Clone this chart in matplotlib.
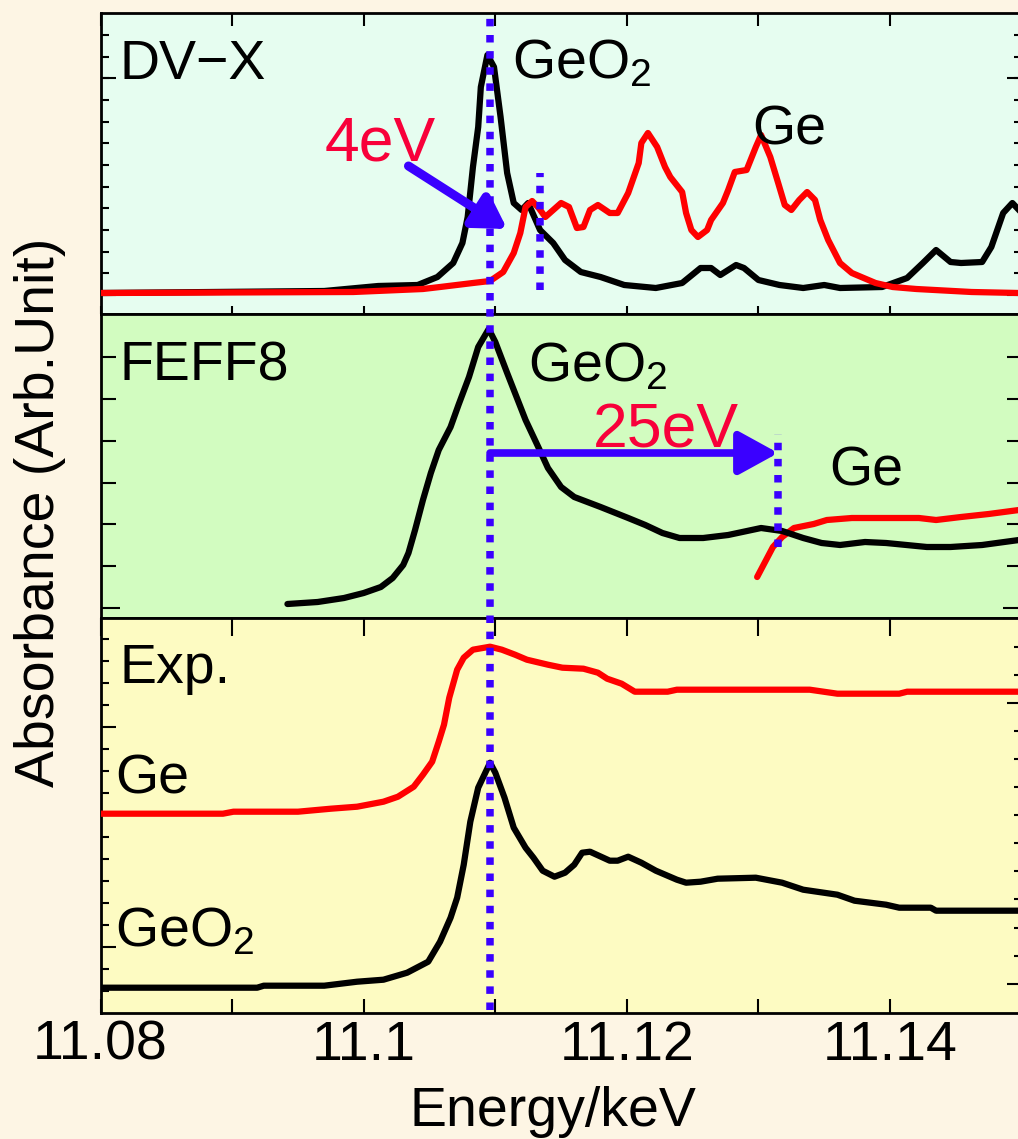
import numpy as np
import matplotlib
matplotlib.use('Agg')
import matplotlib.pyplot as plt
from matplotlib.lines import Line2D
from matplotlib import transforms

plt.rcParams['font.family'] = ['Liberation Sans', 'DejaVu Sans']
plt.rcParams['mathtext.fontset'] = 'custom'
plt.rcParams['mathtext.rm'] = 'Liberation Sans'
plt.rcParams['mathtext.it'] = 'Liberation Sans:italic'
plt.rcParams['mathtext.bf'] = 'Liberation Sans:bold'

# ---------------- data (energy in eV, absorbance in arb. units) ----------------
# Panel 1: DV-X calculation
dvx_geo2_e = [11080.0, 11097.0, 11101.1, 11104.1, 11105.6, 11106.8, 11107.5, 11107.9, 11108.3,
              11108.7, 11108.9, 11109.4, 11109.9, 11110.4, 11110.9, 11111.4, 11112.0, 11112.5,
              11113.4, 11114.4, 11115.3, 11116.5, 11118.0, 11119.8, 11122.2, 11124.2, 11125.6,
              11126.4, 11127.1, 11128.3, 11128.9, 11130.0, 11131.6, 11133.4, 11135.0, 11136.2,
              11139.4, 11141.3, 11142.5, 11143.5, 11144.6, 11145.4, 11147.0, 11147.7, 11148.6,
              11149.3, 11149.8]
dvx_geo2_a = [0.21, 0.23, 0.28, 0.29, 0.37, 0.51, 0.71, 0.97, 1.47,
              1.87, 2.27, 2.59, 2.47, 1.97, 1.41, 1.11, 1.04, 1.11,
              0.84, 0.71, 0.54, 0.42, 0.37, 0.29, 0.26, 0.31, 0.46,
              0.46, 0.39, 0.49, 0.46, 0.34, 0.29, 0.26, 0.29, 0.26,
              0.27, 0.36, 0.51, 0.64, 0.52, 0.51, 0.52, 0.67, 1.01,
              1.11, 1.04]
dvx_ge_e = [11080.0, 11099.2, 11104.5, 11105.8, 11108.3, 11109.6, 11110.6, 11111.4, 11111.9,
            11112.3, 11112.8, 11113.3, 11113.8, 11115.0, 11115.6, 11116.2, 11116.7, 11117.2,
            11117.8, 11118.7, 11119.3, 11120.1, 11120.9, 11121.1, 11121.6, 11122.3, 11122.9,
            11123.3, 11124.2, 11124.5, 11124.9, 11125.4, 11126.1, 11126.4, 11127.3, 11127.7,
            11128.2, 11129.1, 11129.8, 11130.2, 11130.9, 11131.5, 11132.0, 11132.5, 11133.1,
            11133.7, 11134.3, 11134.7, 11135.3, 11136.2, 11137.1, 11138.9, 11140.2, 11142.0,
            11146.2, 11149.8]
dvx_ge_a = [0.21, 0.22, 0.25, 0.27, 0.31, 0.33, 0.42, 0.61, 0.81,
            1.07, 1.13, 1.06, 0.97, 1.11, 1.07, 0.86, 0.87, 1.04,
            1.09, 1.01, 1.01, 1.21, 1.51, 1.71, 1.81, 1.67, 1.47,
            1.37, 1.22, 1.01, 0.84, 0.77, 0.84, 0.94, 1.11, 1.24,
            1.42, 1.44, 1.67, 1.79, 1.57, 1.31, 1.09, 1.04, 1.14,
            1.22, 1.14, 0.94, 0.74, 0.51, 0.41, 0.31, 0.27, 0.25,
            0.22, 0.21]

# Panel 2: FEFF8 calculation
feff_geo2_e = [11094.2, 11096.5, 11098.5, 11100.0, 11101.3, 11102.2, 11103.0, 11103.4, 11103.9,
               11104.5, 11105.1, 11105.7, 11106.6, 11107.2, 11108.0, 11108.7, 11109.5, 11110.0,
               11110.9, 11112.3, 11113.3, 11114.0, 11115.0, 11116.0, 11118.0, 11120.1, 11121.4,
               11122.7, 11124.0, 11125.8, 11127.7, 11130.2, 11131.8, 11133.4, 11134.8, 11136.2,
               11138.1, 11139.7, 11142.8, 11144.6, 11147.0, 11149.8]
feff_geo2_a = [0.14, 0.16, 0.20, 0.25, 0.31, 0.40, 0.53, 0.65, 0.88,
               1.18, 1.45, 1.68, 1.91, 2.13, 2.41, 2.71, 2.89, 2.76,
               2.45, 1.98, 1.70, 1.50, 1.31, 1.21, 1.11, 1.00, 0.93,
               0.85, 0.80, 0.80, 0.83, 0.90, 0.87, 0.80, 0.75, 0.73,
               0.76, 0.75, 0.71, 0.71, 0.73, 0.78]
feff_ge_e = [11129.9, 11130.5, 11131.1, 11131.8, 11132.7, 11134.2, 11135.2, 11137.1, 11140.2,
             11142.2, 11143.5, 11145.4, 11147.5, 11149.8]
feff_ge_a = [0.41, 0.56, 0.71, 0.81, 0.90, 0.94, 0.98, 1.00, 1.00,
             1.00, 0.98, 1.01, 1.04, 1.08]

# Panel 3: experiment
exp_ge_e = [11080.0, 11089.3, 11090.1, 11095.0, 11097.5, 11099.5, 11101.5, 11102.6, 11103.8,
            11104.5, 11105.2, 11105.7, 11106.1, 11106.5, 11107.1, 11107.6, 11108.3, 11109.6,
            11110.5, 11111.5, 11112.4, 11114.0, 11115.1, 11116.7, 11117.8, 11118.5, 11119.6,
            11120.6, 11123.1, 11123.8, 11133.9, 11136.0, 11140.7, 11141.3, 11149.8]
exp_ge_a = [1.99, 1.99, 2.01, 2.01, 2.04, 2.06, 2.11, 2.16, 2.26,
            2.38, 2.51, 2.71, 2.88, 3.15, 3.43, 3.55, 3.63, 3.66,
            3.63, 3.58, 3.53, 3.48, 3.45, 3.44, 3.40, 3.34, 3.29,
            3.21, 3.21, 3.23, 3.23, 3.19, 3.19, 3.21, 3.21]
exp_geo2_e = [11080.0, 11091.9, 11092.4, 11097.0, 11099.5, 11101.5, 11103.3, 11104.9, 11105.8,
              11106.6, 11107.1, 11107.6, 11108.1, 11108.7, 11109.6, 11110.0, 11110.7, 11111.4,
              11112.3, 11112.9, 11113.6, 11114.5, 11115.3, 11116.0, 11116.6, 11117.2, 11118.7,
              11119.3, 11120.1, 11121.1, 11122.2, 11123.8, 11124.5, 11125.6, 11126.9, 11129.8,
              11131.8, 11133.4, 11136.0, 11137.3, 11139.7, 11140.7, 11143.1, 11143.5, 11149.8]
exp_geo2_a = [0.25, 0.25, 0.27, 0.27, 0.31, 0.33, 0.40, 0.51, 0.71,
              0.95, 1.15, 1.48, 1.91, 2.25, 2.50, 2.40, 2.15, 1.85,
              1.65, 1.55, 1.42, 1.36, 1.40, 1.48, 1.60, 1.61, 1.52,
              1.52, 1.56, 1.50, 1.42, 1.33, 1.30, 1.31, 1.34, 1.35,
              1.30, 1.23, 1.18, 1.12, 1.08, 1.05, 1.05, 1.02, 1.02]

# reference energies (eV)
geo2_peak_e = 11109.6
dvx_ge_edge_e = 11113.4
feff_ge_edge_e = 11131.5

# axis ticks
x_ticks_kev = [11.08, 11.09, 11.10, 11.11, 11.12, 11.13, 11.14]
x_tick_labels = ['11.08', '', '11.1', '', '11.12', '', '11.14']

# ---------------- styling ----------------
FIG_BG = '#FDF5E4'
BG = ['#E6FDF0', '#D2FCC0', '#FDFBC2']
RED = '#FF0000'
TXT_RED = '#F8003A'
BLUE = '#3A00FF'
LW = 4.5

W, H = 1018, 1139
fig = plt.figure(figsize=(W / 100, H / 100), dpi=100, facecolor=FIG_BG)

left = 100.6 / W
width = (0.07 * 13157) / W
edges = [12.7, 314, 618, 1012.7]
axes = []
for i in range(3):
    top, bot = edges[i], edges[i + 1]
    ax = fig.add_axes([left, 1 - bot / H, width, (bot - top) / H])
    ax.set_facecolor(BG[i])
    ax.set_xlim(11.08, 11.15)
    ax.set_ylim(0, (bot - top) / 100)
    for s in ax.spines.values():
        s.set_linewidth(2)
    axes.append(ax)

ax1, ax2, ax3 = axes

def kev(e):
    return np.asarray(e) / 1000.0

# panel 1
ax1.plot(kev(dvx_geo2_e), dvx_geo2_a, color='black', lw=LW, zorder=3, solid_joinstyle='round')
ax1.plot(kev(dvx_ge_e), dvx_ge_a, color=RED, lw=LW, zorder=4, solid_joinstyle='round')
# panel 2
ax2.plot(kev(feff_ge_e), feff_ge_a, color=RED, lw=LW, zorder=3, solid_capstyle='round')
ax2.plot(kev(feff_geo2_e), feff_geo2_a, color='black', lw=LW, zorder=4, solid_capstyle='round')
# panel 3
ax3.plot(kev(exp_ge_e), exp_ge_a, color=RED, lw=LW, zorder=3)
ax3.plot(kev(exp_geo2_e), exp_geo2_a, color='black', lw=LW, zorder=4)

DLW = 5.4
dot = (0, (1, 1.15))
# long dotted line across all panels
tr = transforms.blended_transform_factory(ax3.transData, fig.transFigure)
fig.add_artist(Line2D([geo2_peak_e / 1000] * 2, [1 - 1010 / H, 1 - 17 / H], transform=tr,
                      color=BLUE, lw=DLW, linestyle=dot, dash_capstyle='butt', zorder=10))
ax1.plot([dvx_ge_edge_e / 1000] * 2, [0.24, 1.41], color=BLUE, lw=DLW, linestyle=dot,
         dash_capstyle='butt', zorder=10)
ax2.plot([feff_ge_edge_e / 1000] * 2, [0.71, 1.84], color=BLUE, lw=DLW, linestyle=dot,
         dash_capstyle='butt', zorder=10)

# arrows
ax1.annotate('', xy=(11.1109, 0.85), xytext=(11.1034, 1.48),
             arrowprops=dict(arrowstyle='-|>,head_length=1.0,head_width=0.6', color=BLUE,
                             lw=6.5, mutation_scale=19, shrinkA=0, shrinkB=0), zorder=9)
ax2.annotate('', xy=(feff_ge_edge_e / 1000, 1.65), xytext=(geo2_peak_e / 1000, 1.65),
             arrowprops=dict(arrowstyle='-|>,head_length=1.0,head_width=0.55', color=BLUE,
                             lw=5.5, mutation_scale=24, shrinkA=0, shrinkB=0), zorder=9)

# texts
FS = 40
def lab(ax, e, y, s, color='black', fs=FS):
    ax.text(e / 1000, y, s, fontsize=fs, color=color, ha='left', va='baseline', zorder=12)

lab(ax1, 11081.4, 2.35, 'DV\u2212X')
lab(ax1, 11111.3, 2.36, 'GeO$_2$')
lab(ax1, 11129.5, 1.70, 'Ge')
lab(ax1, 11097.0, 1.54, '4eV', TXT_RED, 45)
lab(ax2, 11081.4, 2.37, 'FEFF8')
lab(ax2, 11112.5, 2.37, 'GeO$_2$')
lab(ax2, 11117.4, 1.71, '25eV', TXT_RED, 45)
lab(ax2, 11135.4, 1.32, 'Ge')
lab(ax3, 11081.4, 3.30, 'Exp.')
lab(ax3, 11081.1, 2.19, 'Ge')
lab(ax3, 11081.1, 0.66, 'GeO$_2$')

# ---------------- ticks ----------------
for ax in axes:
    ax.set_xticks(x_ticks_kev)
    ax.set_xticklabels([])
    ax.tick_params(axis='y', which='both', left=True, right=False, labelleft=False, direction='in', width=1.5)
    ax.tick_params(axis='x', which='both', direction='in', width=1.5, top=False)

ax1.tick_params(axis='x', length=5.8)
ax2.tick_params(axis='x', bottom=False)
ax3.tick_params(axis='x', length=10, pad=5)
ax3.set_xticklabels(x_tick_labels, fontsize=FS)

for ax, L in ((ax1, 9.4), (ax3, 13)):
    sec = ax.secondary_xaxis('top')
    sec.set_xticks(x_ticks_kev)
    sec.set_xticklabels([])
    sec.tick_params(direction='in', length=L, width=1.5)
    sec.spines['top'].set_visible(False)

def yticks(ax, major, minor, lmaj, lmin, side):
    if side == 'left':
        a = ax
    else:
        a = ax.secondary_yaxis('right')
        a.spines['right'].set_visible(False)
    a.set_yticks(major)
    a.set_yticks(minor, minor=True)
    a.set_yticklabels([])
    a.tick_params(axis='y', which='major', direction='in', length=lmaj, width=1.5)
    a.tick_params(axis='y', which='minor', direction='in', length=lmin, width=1.5)

p1_minor = [0.19 + 0.2167 * k for k in range(13)]
yticks(ax1, [0.19, 2.36], p1_minor, 11, 5.8, 'left')
yticks(ax1, [0.19, 2.36], p1_minor, 11, 5.8, 'right')
p2_minor = [0.10 + 0.418 * k for k in range(7)]
yticks(ax2, [0.10], p2_minor, 14, 11, 'left')
yticks(ax2, [0.10], p2_minor, 14, 11, 'right')
p3_minor_l = [0.22 + 0.22 * k for k in range(17)]
yticks(ax3, [0.66, 2.86], p3_minor_l, 11, 6, 'left')
p3_minor_r = [0.29 + 0.281 * k for k in range(13)]
yticks(ax3, [0.29, 3.10], p3_minor_r, 11, 6, 'right')

fig.text(40 / W, 1 - 512 / H, 'Absorbance (Arb.Unit)', rotation=90, fontsize=FS,
         ha='center', va='center')
fig.text(553 / W, 1 - 1126 / H, 'Energy/keV', fontsize=FS, ha='center', va='baseline')

fig.savefig('out.png', dpi=100, facecolor=FIG_BG)
